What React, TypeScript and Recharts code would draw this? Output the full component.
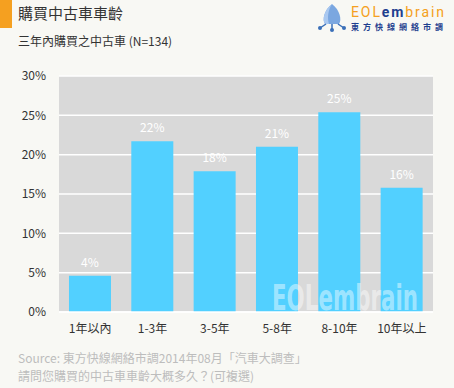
import { BarChart, Bar, XAxis, YAxis, CartesianGrid, LabelList } from "recharts";

const categories = ["1年以內", "1-3年", "3-5年", "5-8年", "8-10年", "10年以上"];
const shares = [4.6, 21.7, 17.9, 21.0, 25.4, 15.8];
const shareLabels = ["4%", "22%", "18%", "21%", "25%", "16%"];
const yTicks = [0, 5, 10, 15, 20, 25, 30];

const data = categories.map((name, i) => ({ name, value: shares[i], label: shareLabels[i] }));

const CJK = '"Noto Sans CJK TC", "Noto Sans", sans-serif';

export default function App() {
  return (
    <div style={{ position: "absolute", left: 0, top: 0, width: 454, height: 388, background: "#F8F8F4", fontFamily: CJK, overflow: "hidden" }}>
      <div style={{ position: "absolute", left: 0, top: 0, width: 12, height: 28, background: "#F5A020" }} />
      <div style={{ position: "absolute", left: 18, top: 2, fontSize: 15, color: "#333", lineHeight: "22px" }}>購買中古車車齡</div>
      <div style={{ position: "absolute", left: 18, top: 32, fontSize: 12, color: "#333", lineHeight: "18px" }}>三年內購買之中古車 (N=134)</div>

      {/* logo */}
      <svg style={{ position: "absolute", left: 314, top: 0 }} width={140} height={34}>
        <path d="M18 4 C10 10 8 20 11 24 L25 24 C28 20 26 10 18 4 Z" fill="#7BA7E0" />
        <path d="M18 4 C14 10 13 18 15 24 L11 24 C8 20 10 10 18 4 Z" fill="#A9C8F0" />
        <line x1="12" y1="24" x2="6" y2="28" stroke="#3A6FB8" strokeWidth={1.5} />
        <line x1="24" y1="24" x2="30" y2="28" stroke="#3A6FB8" strokeWidth={1.5} />
        <line x1="18" y1="24" x2="18" y2="30" stroke="#3A6FB8" strokeWidth={1.5} />
        <circle cx="6" cy="28" r="2" fill="#3A6FB8" />
        <circle cx="30" cy="28" r="2" fill="#3A6FB8" />
        <circle cx="18" cy="30" r="2" fill="#3A6FB8" />
        <text x={37} y={17} fontSize={14} fontFamily="Roboto, sans-serif" textLength={93}>
          <tspan fill="#F5A020">EOL</tspan>
          <tspan fill="#1F3F8F" fontWeight="bold">em</tspan>
          <tspan fill="#F5A020">brain</tspan>
        </text>
        <text x={37} y={29.5} fontSize={8} fill="#1F3F8F" fontFamily={CJK} fontWeight="bold" textLength={92}>東方快線網絡市調</text>
      </svg>

      <BarChart
        width={454}
        height={388}
        data={data}
        margin={{ top: 76, right: 21, bottom: 46, left: 0 }}
        barCategoryGap="16%"
        style={{ position: "absolute", left: 0, top: 0 }}
      >
        <CartesianGrid vertical={false} fill="#D9D9D9" stroke="#FFFFFF" strokeWidth={1.5} />
        <XAxis
          dataKey="name"
          height={30}
          tickSize={0}
          tickMargin={12}
          axisLine={{ stroke: "#FFFFFF", strokeWidth: 1.5 }}
          tickLine={false}
          tick={{ fontSize: 12, fill: "#333", fontFamily: CJK }}
          interval={0}
        />
        <YAxis
          width={59}
          domain={[0, 30]}
          ticks={yTicks}
          tickFormatter={(v: number) => `${v}%`}
          tickSize={0}
          tickMargin={13}
          axisLine={false}
          tickLine={false}
          tick={{ fontSize: 12, fill: "#333", fontFamily: CJK }}
        />
        <Bar dataKey="value" fill="#52D0FF" isAnimationActive={false}>
          <LabelList dataKey="label" position="top" offset={9} fill="#FFFFFF" fontSize={12} fontFamily={CJK} />
        </Bar>
      </BarChart>

      {/* watermark */}
      <svg style={{ position: "absolute", left: 0, top: 0, pointerEvents: "none" }} width={454} height={388}>
        <text
          x={272}
          y={310}
          fontSize={36}
          fontWeight="bold"
          fontFamily='"DejaVu Sans Condensed", sans-serif'
          fill="#FFFFFF"
          fillOpacity={0.45}
          textLength={146}
          lengthAdjust="spacingAndGlyphs"
        >
          EOLembrain
        </text>
      </svg>

      <div style={{ position: "absolute", left: 18, top: 349, fontSize: 12, color: "#BDBDBD", lineHeight: "18px" }}>
        Source: 東方快線網絡市調2014年08月「汽車大調查」
        <br />
        請問您購買的中古車車齡大概多久？(可複選)
      </div>
    </div>
  );
}
